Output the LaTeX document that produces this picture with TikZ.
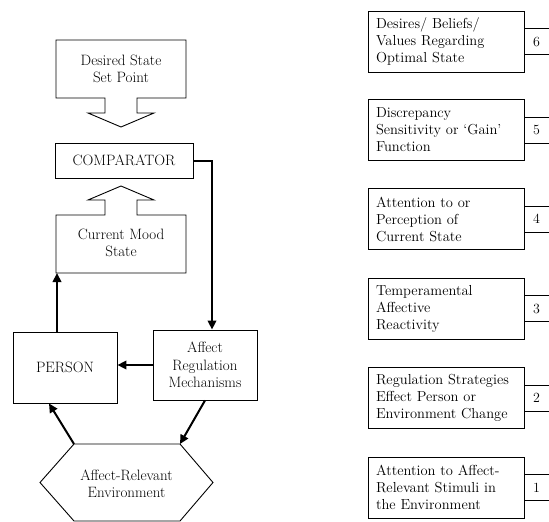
\documentclass[tikz,border=0pt]{standalone}
\usetikzlibrary{arrows.meta,positioning}

\tikzset{
  lbl/.style={font=\fontsize{15}{17.5}\selectfont, align=center},
  outline/.style={line width=0.9pt},
  mainbox/.style={draw, outline, lbl},
  factor/.style={draw, outline, minimum width=156pt, minimum height=61pt,
    text width=140pt, align=left, font=\fontsize{14.5}{17}\selectfont},
  flow/.style={line width=2pt, -{Triangle[length=9pt,width=8.5pt]}}
}

\begin{document}
\begin{tikzpicture}[x=1pt, y=-1pt]
\useasboundingbox (0,0) rectangle (549,522);

% left: control loop
\node[lbl] (setpoint) at (121,69) {Desired State\\Set Point};
\draw[outline] (105,98) -- (56,98) -- (56,40) -- (186,40) -- (186,98) -- (137,98)
  -- (137,113) -- (154,113) -- (121,127) -- (88,113) -- (105,113) -- cycle;

\node[mainbox, minimum width=138pt, minimum height=35pt] (comp) at (124,160.5) {COMPARATOR};

\node[lbl] (mood) at (121,243) {Current Mood\\State};
\draw[outline] (105,215) -- (56,215) -- (56,273) -- (186,273) -- (186,215) -- (137,215)
  -- (137,200) -- (154,200) -- (121,186) -- (88,200) -- (105,200) -- cycle;
\coordinate (moodbase) at (57,273);

\node[mainbox, minimum width=104pt, minimum height=71pt] (person) at (65,367.5) {PERSON};
\node[mainbox, minimum width=104pt, minimum height=70pt] (regul) at (205,365) {Affect\\Regulation\\Mechanisms};

\node[lbl] (env) at (126.5,484) {Affect-Relevant\\Environment};
\coordinate (hexNW) at (74,444);
\coordinate (hexNE) at (180,444);
\draw[outline] (hexNW) -- (hexNE) -- (213,482.5) -- (180,521) -- (74,521) -- (40,482.5) -- cycle;

\draw[flow] (comp.east) -| ([xshift=7pt]regul.north);
\draw[flow] (regul.west) -- (regul.west -| person.east);
\draw[flow] ([xshift=-8pt]person.north) -- (moodbase);
\draw[flow] (regul.south) -- (hexNE);
\draw[flow] (hexNW) -- ([xshift=-16pt]person.south);

% right: numbered factors
\foreach \n/\yy/\txt in {
  6/41.5/{Desires/ Beliefs/\\Values Regarding\\Optimal State},
  5/130/{Discrepancy\\Sensitivity or `Gain'\\Function},
  4/219/{Attention to or\\Perception of\\Current State},
  3/308.5/{Temperamental\\Affective\\Reactivity},
  2/398/{Regulation Strategies\\Effect Person or\\Environment Change},
  1/487.5/{Attention to Affect-\\Relevant Stimuli in\\the Environment}}{
  \node[factor] (f\n) at (446,\yy) {\txt};
  \draw[outline] ([shift={(25,-13)}]f\n.east) -| ([shift={(0,13)}]f\n.east) -- ++(25,0);
  \node[font=\fontsize{14}{16}\selectfont] (num\n) at ([xshift=12pt]f\n.east) {\n};
}

\end{tikzpicture}
\end{document}
